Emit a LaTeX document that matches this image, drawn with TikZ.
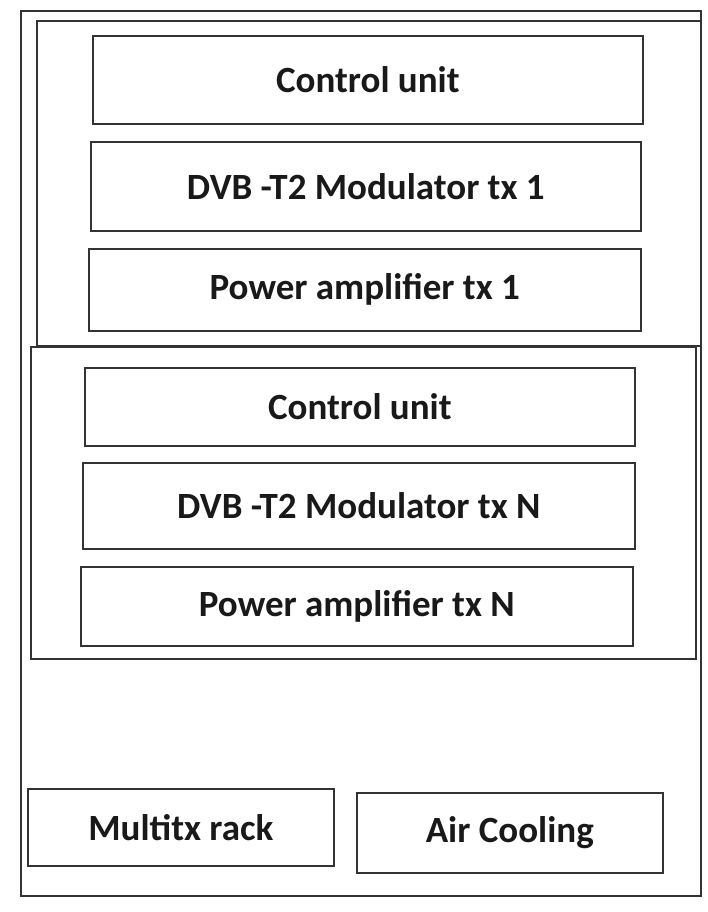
\documentclass[tikz,border=0pt]{standalone}
\usepackage{fontspec}
\setmainfont{Carlito}
\begin{document}
\begin{tikzpicture}[x=1pt,y=-1pt,
  frame/.style={draw=black!80,line width=1.6pt},
  unitbox/.style={draw=black!80,line width=1.6pt,font=\bfseries\fontsize{37}{42}\selectfont,text=black!90}]
\useasboundingbox (0,0) rectangle (708,912);
\fill[white] (0,0) rectangle (708,912);
% outer rack
\node[frame,minimum width=680pt,minimum height=885pt,anchor=north west] (rack) at (20,10) {};
% group 1
\node[frame,minimum width=664pt,minimum height=325pt,anchor=north west] (g1) at (36,20) {};
\node[unitbox,minimum width=550pt,minimum height=88pt,anchor=north west] (cu1) at (92,35) {Control unit};
\node[unitbox,minimum width=550pt,minimum height=89pt,anchor=north west] (mod1) at (90,141) {DVB -T2 Modulator tx 1};
\node[unitbox,minimum width=552pt,minimum height=82pt,anchor=north west] (pa1) at (88,248) {Power amplifier tx 1};
% group N
\node[frame,minimum width=665pt,minimum height=312pt,anchor=north west] (g2) at (30,346) {};
\node[unitbox,minimum width=550pt,minimum height=78pt,anchor=north west] (cu2) at (84,367) {Control unit};
\node[unitbox,minimum width=552pt,minimum height=86pt,anchor=north west] (mod2) at (82,462) {DVB -T2 Modulator tx N};
\node[unitbox,minimum width=552pt,minimum height=79pt,anchor=north west] (pa2) at (80,566) {Power amplifier tx N};
% bottom
\node[unitbox,minimum width=306pt,minimum height=77pt,anchor=north west] (mtx) at (27,788) {Multitx rack};
\node[unitbox,minimum width=306pt,minimum height=80pt,anchor=north west] (air) at (356,792) {Air Cooling};
\end{tikzpicture}
\end{document}
